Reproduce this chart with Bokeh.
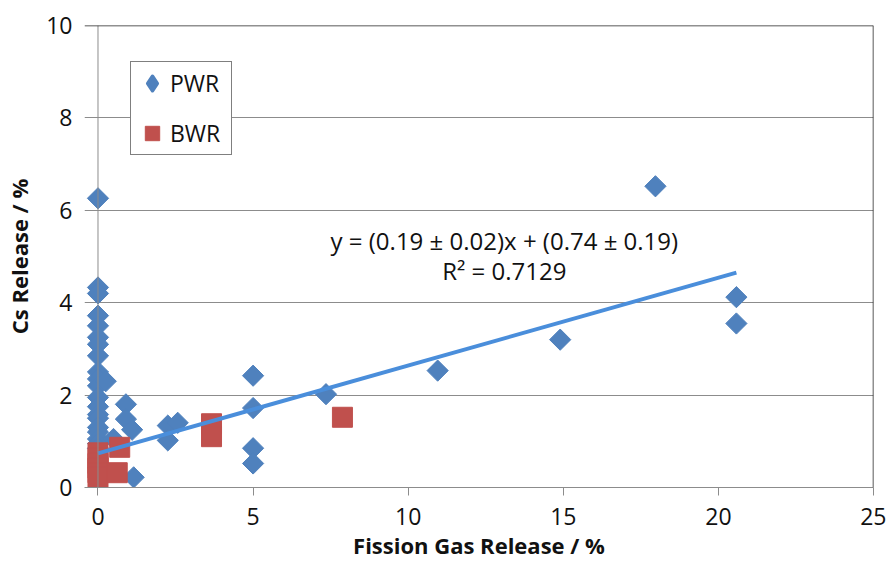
import math
from bokeh.plotting import figure
from bokeh.models import Range1d, Legend, LegendItem, Label, Span, FixedTicker
from bokeh.embed import file_html
from bokeh.resources import INLINE

# ---- data ----
pwr_x = [0, 0, 0, 0, 0, 0, 0, 0, 0, 0, 0, 0, 0, 0, 0, 0, 0, 0, 0, 0,
         0.25, 0.5, 0.9, 0.9, 1.1, 1.15, 2.25, 2.57, 2.25,
         5.0, 5.0, 5.0, 5.0, 7.35, 10.95, 14.9, 17.97, 20.58, 20.58]
pwr_y = [6.26, 4.33, 4.2, 3.72, 3.5, 3.25, 3.1, 2.85, 2.5, 2.35, 2.2, 1.95,
         1.75, 1.58, 1.5, 1.3, 1.2, 1.05, 0.95, 0.85,
         2.3, 1.05, 1.8, 1.48, 1.25, 0.22, 1.34, 1.4, 1.02,
         2.42, 1.72, 0.85, 0.52, 2.02, 2.53, 3.2, 6.52, 4.12, 3.55]

bwr_x = [0, 0, 0, 0, 0, 0, 0.7, 0.62, 3.66, 3.66, 7.88]
bwr_y = [0.75, 0.63, 0.52, 0.42, 0.32, 0.22, 0.87, 0.32, 1.38, 1.1, 1.52]

fit_slope = 0.19
fit_intercept = 0.74
fit_text = "y = (0.19 \u00b1 0.02)x + (0.74 \u00b1 0.19)"
r2_text = "R\u00b2 = 0.7129"

x_ticks = [0, 5, 10, 15, 20, 25]
y_ticks = [0, 2, 4, 6, 8, 10]
x_title = "Fission Gas Release / %"
y_title = "Cs Release / %"
series_names = ["PWR", "BWR"]

BLUE = "#4F81BD"
RED = "#C0504D"
LINE = "#4A8EDB"
GRID = "#8C8C8C"
FONT = "Open Sans"
TXT = "#111111"

p = figure(width=886, height=562, x_range=Range1d(-0.435, 25), y_range=Range1d(0, 10),
           output_backend="svg", toolbar_location=None,
           min_border_left=84, min_border_right=13, min_border_top=25, min_border_bottom=75)
p.outline_line_color = None
p.background_fill_color = "white"

# axes
p.xaxis.ticker = FixedTicker(ticks=x_ticks)
p.yaxis.ticker = FixedTicker(ticks=y_ticks)
p.xgrid.visible = False
p.ygrid.grid_line_color = GRID
p.ygrid.grid_line_width = 1

for ax in (p.xaxis, p.yaxis):
    ax.minor_tick_line_color = None
    ax.major_label_text_font = FONT
    ax.major_label_text_font_size = "23px"
    ax.major_label_text_color = TXT
    ax.axis_label_text_font = FONT
    ax.axis_label_text_font_size = "22px"
    ax.axis_label_text_font_style = "bold"
    ax.axis_label_text_color = TXT

p.xaxis.axis_line_color = GRID
p.xaxis.major_tick_line_color = GRID
p.xaxis.major_tick_out = 8
p.xaxis.major_tick_in = 0
p.xaxis.major_label_standoff = 12
p.xaxis.axis_label_standoff = 2
p.xaxis.axis_label = x_title

p.yaxis.axis_line_color = None
p.yaxis.major_tick_line_color = None
p.yaxis.major_tick_out = 0
p.yaxis.major_tick_in = 0
p.yaxis.major_label_standoff = 12
p.yaxis.axis_label_standoff = 9
p.yaxis.axis_label = y_title

# y axis line at x=0 and top/right frame
p.add_layout(Span(location=0, dimension="height", line_color=GRID, line_width=1))
p.add_layout(Span(location=10, dimension="width", line_color="#222222", line_width=1.5))
p.add_layout(Span(location=25, dimension="height", line_color="#222222", line_width=1.5))

# points (PWR diamonds = squares rotated by 45 degrees)
r_pwr = p.scatter(pwr_x, pwr_y, marker="square", angle=math.pi / 4, size=15,
                  fill_color=BLUE, line_color=BLUE)
r_bwr = p.scatter(bwr_x, bwr_y, marker="square", size=20,
                  fill_color=RED, line_color=RED)

# legend-only proxy for the diamond symbol (legend glyphs ignore angle);
# its single point is NaN so nothing is drawn in the plot area
r_pwr_key = p.scatter([float("nan")], [float("nan")], marker="diamond",
                      fill_color=BLUE, line_color=BLUE, line_width=3.5, line_join="round")

# trend line from the fitted coefficients
x_lo, x_hi = min(pwr_x + bwr_x), max(pwr_x + bwr_x)
p.line([x_lo, x_hi], [fit_intercept + fit_slope * x_lo, fit_intercept + fit_slope * x_hi],
       line_color=LINE, line_width=4)

# equation text
p.add_layout(Label(x=13.1, y=5.35, text=fit_text, text_align="center", text_baseline="middle",
                   text_font=FONT, text_font_size="24px", text_color=TXT))
p.add_layout(Label(x=13.1, y=4.7, text=r2_text, text_align="center", text_baseline="middle",
                   text_font=FONT, text_font_size="24px", text_color=TXT))

legend = Legend(items=[LegendItem(label=series_names[0], renderers=[r_pwr_key]),
                       LegendItem(label=series_names[1], renderers=[r_bwr])],
                location=(46, 332), orientation="vertical",
                border_line_color="black", border_line_width=1,
                background_fill_color="white", background_fill_alpha=1,
                padding=3, spacing=14, margin=0,
                glyph_width=36, glyph_height=36, label_height=36, label_width=58,
                label_standoff=0,
                label_text_font=FONT, label_text_font_size="23px", label_text_color=TXT)
p.add_layout(legend)

open("out.html", "w").write(file_html(p, INLINE))
